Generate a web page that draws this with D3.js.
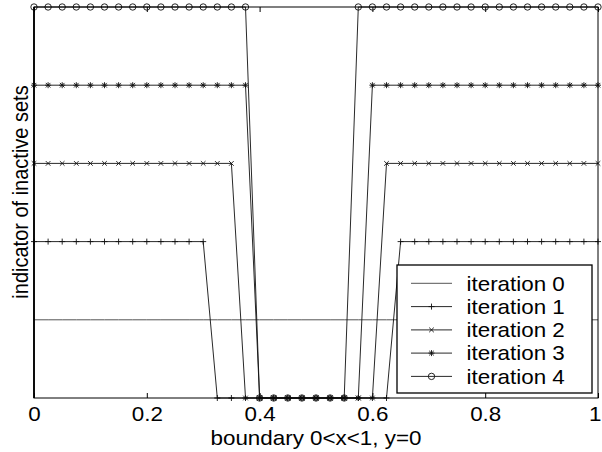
<!DOCTYPE html>
<html>
<head>
<meta charset="utf-8">
<script src="https://cdn.jsdelivr.net/npm/d3@7"></script>
<style>
  html, body { margin: 0; padding: 0; background: #fff; }
  svg { display: block; font-family: "Liberation Sans", Arial, Helvetica, sans-serif; }
</style>
</head>
<body>
<svg id="chart" width="602" height="452"></svg>
<script>
// ---- data ----
const xGrid = [0, 0.025, 0.05, 0.075, 0.1, 0.125, 0.15, 0.175, 0.2, 0.225,
  0.25, 0.275, 0.3, 0.325, 0.35, 0.375, 0.4, 0.425, 0.45, 0.475,
  0.5, 0.525, 0.55, 0.575, 0.6, 0.625, 0.65, 0.675, 0.7, 0.725,
  0.75, 0.775, 0.8, 0.825, 0.85, 0.875, 0.9, 0.925, 0.95, 0.975, 1];

const iteration0 = [1,1,1,1,1,1,1,1,1,1, 1,1,1,1,1,1,1,1,1,1, 1,1,1,1,1,1,1,1,1,1, 1,1,1,1,1,1,1,1,1,1, 1];
const iteration1 = [2,2,2,2,2,2,2,2,2,2, 2,2,2,0,0,0,0,0,0,0, 0,0,0,0,0,0,2,2,2,2, 2,2,2,2,2,2,2,2,2,2, 2];
const iteration2 = [3,3,3,3,3,3,3,3,3,3, 3,3,3,3,3,0,0,0,0,0, 0,0,0,0,0,3,3,3,3,3, 3,3,3,3,3,3,3,3,3,3, 3];
const iteration3 = [4,4,4,4,4,4,4,4,4,4, 4,4,4,4,4,4,0,0,0,0, 0,0,0,0,4,4,4,4,4,4, 4,4,4,4,4,4,4,4,4,4, 4];
const iteration4 = [5,5,5,5,5,5,5,5,5,5, 5,5,5,5,5,5,0,0,0,0, 0,0,0,5,5,5,5,5,5,5, 5,5,5,5,5,5,5,5,5,5, 5];

const seriesNames = ["iteration 0", "iteration 1", "iteration 2", "iteration 3", "iteration 4"];
const seriesMarkers = ["none", "plus", "cross", "star", "circle"];
const seriesValues = [iteration0, iteration1, iteration2, iteration3, iteration4];

const xTickValues = [0, 0.2, 0.4, 0.6, 0.8, 1];
const xTickLabels = ["0", "0.2", "0.4", "0.6", "0.8", "1"];
const xLabel = "boundary 0<x<1, y=0";
const yLabel = "indicator of inactive sets";

// ---- layout ----
const svg = d3.select("#chart");
const L = 34, R = 598, T = 7, B = 398;
const SX = 1.12; // horizontal text stretch
const x = d3.scaleLinear().domain([0, 1]).range([L, R]);
const y = d3.scaleLinear().domain([0, 5]).range([B, T]);

// axes ticks (inside)
const gBottom = svg.append("g").attr("transform", `translate(0,${B})`)
  .call(d3.axisBottom(x).tickValues(xTickValues).tickSizeInner(-5).tickSizeOuter(0)
    .tickFormat((d, i) => xTickLabels[i]));
gBottom.select(".domain").remove();
gBottom.selectAll(".tick line").attr("stroke", "#000").attr("stroke-width", 1);
gBottom.selectAll(".tick text")
  .attr("y", 23).attr("dy", 0)
  .attr("transform", `scale(${SX},1)`)
  .attr("fill", "#000")
  .style("font-size", "20px")
  .style("font-family", '"Liberation Sans", Arial, sans-serif');
// keep the last label inside the picture
gBottom.selectAll(".tick text").filter(d => d === 1)
  .attr("text-anchor", "end").attr("x", 3 / SX);

const gTop = svg.append("g").attr("transform", `translate(0,${T})`)
  .call(d3.axisTop(x).tickValues(xTickValues).tickSizeInner(-5).tickSizeOuter(0).tickFormat(""));
gTop.select(".domain").remove();
gTop.selectAll(".tick line").attr("stroke", "#000").attr("stroke-width", 1);

// series lines
const line = d3.line().x((d, i) => x(xGrid[i])).y(d => y(d));

function markerPath(type) {
  const a = 3, c = 2.3;
  if (type === "plus") return `M${-a},0H${a}M0,${-a}V${a}`;
  if (type === "cross") return `M${-c},${-c}L${c},${c}M${-c},${c}L${c},${-c}`;
  if (type === "star") return `M${-a},0H${a}M0,${-a}V${a}M${-c},${-c}L${c},${c}M${-c},${c}L${c},${-c}`;
  return null;
}

seriesValues.forEach((vals, si) => {
  const g = svg.append("g");
  g.append("path").datum(vals)
    .attr("d", line)
    .attr("fill", "none")
    .attr("stroke", si === 0 ? "#555" : "#111")
    .attr("stroke-width", si === 0 ? 1 : 0.9);
  const type = seriesMarkers[si];
  if (type === "circle") {
    g.selectAll("circle").data(vals).join("circle")
      .attr("cx", (d, i) => x(xGrid[i])).attr("cy", d => y(d)).attr("r", 3.2)
      .attr("fill", "none").attr("stroke", "#111").attr("stroke-width", 0.9);
  } else if (type !== "none") {
    g.selectAll("path.m").data(vals).join("path").attr("class", "m")
      .attr("transform", (d, i) => `translate(${x(xGrid[i])},${y(d)})`)
      .attr("d", markerPath(type))
      .attr("fill", "none").attr("stroke", "#111").attr("stroke-width", 0.9);
  }
});

// frame
svg.append("rect").attr("x", L).attr("y", T).attr("width", R - L).attr("height", B - T)
  .attr("fill", "none").attr("stroke", "#000").attr("stroke-width", 1);
svg.append("line").attr("x1", L).attr("x2", L).attr("y1", T).attr("y2", B)
  .attr("stroke", "#000").attr("stroke-width", 1.8);

// legend
const lg = svg.append("g");
lg.append("rect").attr("x", 397).attr("y", 265).attr("width", 195).attr("height", 128)
  .attr("fill", "#fff").attr("stroke", "#000").attr("stroke-width", 1.3);
const rowY = [283.3, 306.6, 329.9, 353.1, 376.4];
seriesNames.forEach((name, si) => {
  const ry = rowY[si];
  lg.append("line").attr("x1", 411).attr("x2", 452).attr("y1", ry).attr("y2", ry)
    .attr("stroke", si === 0 ? "#555" : "#111").attr("stroke-width", si === 0 ? 1 : 0.9);
  const type = seriesMarkers[si];
  if (type === "circle") {
    lg.append("circle").attr("cx", 431.5).attr("cy", ry).attr("r", 3.2)
      .attr("fill", "none").attr("stroke", "#111").attr("stroke-width", 0.9);
  } else if (type !== "none") {
    lg.append("path").attr("transform", `translate(431.5,${ry})`).attr("d", markerPath(type))
      .attr("fill", "none").attr("stroke", "#111").attr("stroke-width", 0.9);
  }
  lg.append("text").attr("transform", `translate(466.5,${ry + 7.3}) scale(${SX},1)`)
    .style("font-size", "20px").attr("fill", "#000").text(name);
});

// axis labels
svg.append("text").attr("transform", `translate(316,445) scale(${SX},1)`)
  .attr("text-anchor", "middle").style("font-size", "20px").attr("fill", "#000").text(xLabel);
svg.append("text").attr("transform", `translate(28,192) rotate(-90) scale(1,${SX})`)
  .attr("text-anchor", "middle").style("font-size", "20px").attr("fill", "#000").text(yLabel);
</script>
</body>
</html>
